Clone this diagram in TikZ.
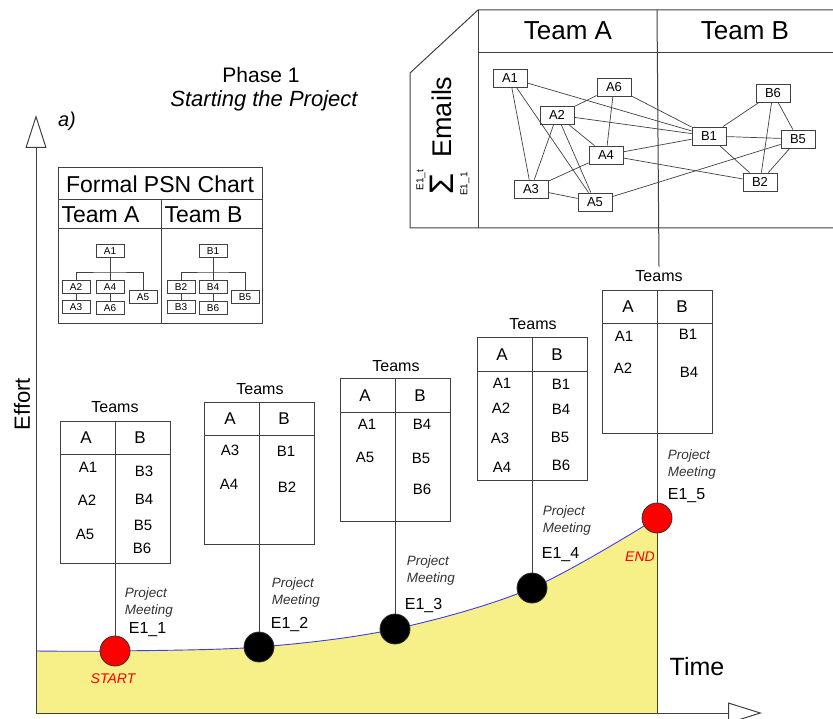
\documentclass[tikz,border=0pt]{standalone}
\usepackage{fontspec}
\setmainfont{Liberation Sans}
\usetikzlibrary{arrows.meta,calc,positioning}
\definecolor{Ink}{HTML}{404040}
\definecolor{Sand}{HTML}{F7EF88}
\definecolor{Trend}{HTML}{3C3CF0}
\definecolor{Signal}{HTML}{FF0000}
\newcommand{\fsz}[1]{\fontsize{#1}{#1}\selectfont}
\tikzset{
  mbox/.style={draw=Ink,line width=.8pt,minimum width=34pt,minimum height=18pt,inner sep=0pt,font=\fsz{13}},
  pbox/.style={draw=Ink,line width=.8pt,minimum width=28pt,minimum height=13pt,inner sep=0pt,font=\fsz{10}},
  evt/.style={circle,draw=black!80,line width=.8pt,minimum size=30pt,inner sep=0pt},
  teamtab/.style={draw=Ink,minimum width=110pt,minimum height=142pt,inner sep=0pt},
  teamlbl/.style={font=\fsz{16}},
  colhead/.style={font=\fsz{17}},
  entry/.style={font=\fsz{15}},
  meet/.style={anchor=north west,align=left,text=black!80,font=\itshape\fontsize{13.5}{17}\selectfont},
  evtlbl/.style={anchor=west,font=\fsz{16}},
}
\begin{document}
\begin{tikzpicture}[x=1pt,y=-1pt,line width=1pt]
\useasboundingbox (0,0) rectangle (833,719);
\coordinate (origin) at (36,713); \coordinate (ytip) at (36,115); \coordinate (xtip) at (762,713);
\coordinate (p0) at (36,651);
\coordinate (p1) at (115,651); \coordinate (p2) at (259,647); \coordinate (p3) at (395,629);
\coordinate (p4) at (532,588); \coordinate (p5) at (657,518);
% effort area
\fill[Sand] (origin) -- plot[smooth,tension=.55] coordinates {(p0) (p1) (p2) (p3) (p4) (p5)} -- (p5 |- origin) -- cycle;
\draw[Trend,line width=.9pt] plot[smooth,tension=.55] coordinates {(p0) (p1) (p2) (p3) (p4) (p5)};
\draw[Ink,-{Triangle[open,length=33pt,width=21pt]}] (origin) -- (ytip);
\draw[Ink,-{Triangle[open,length=34pt,width=21pt]}] (origin) -- (xtip);
\node[rotate=90,font=\fsz{22}] (effort) at (22,404) {Effort};
\node[font=\fsz{25}] (time) at (697,667) {Time};
\node[font=\itshape\fsz{20}] (tag) at (67,121) {a)};
\node[font=\fsz{21}] (phase) at (261,75) {Phase 1};
\node[font=\itshape\fsz{22}] (phasesub) at (264,101) {Starting the Project};

% email panel
\draw[Ink] (833,10) -- (478,10) -- (410,73) -- (410,228) -- (833,228);
\draw[Ink] (478,10) -- (478,228);
\draw[Ink] (478,53) -- (833,53);
\node[font=\fsz{26}] (mailA) at (568,31) {Team A};
\node[font=\fsz{26}] (mailB) at (745,31) {Team B};
\node[rotate=90,font=\fsz{27}] (mails) at (442,117) {Emails};
\node[rotate=90,font=\fsz{34}] (sigma) at (442,184) {Σ};
\node[rotate=90,font=\fsz{10}] (supE) at (421,180) {E1\_t};
\node[rotate=90,font=\fsz{10}] (subE) at (465,184) {E1\_1};
\node[mbox] (mA1) at (510,78) {A1};
\node[mbox] (mA6) at (614,87) {A6};
\node[mbox] (mA2) at (557,115) {A2};
\node[mbox] (mA4) at (606,155) {A4};
\node[mbox] (mA3) at (531,189) {A3};
\node[mbox] (mA5) at (595,202) {A5};
\node[mbox] (mB1) at (709,136) {B1};
\node[mbox] (mB6) at (773,93) {B6};
\node[mbox] (mB5) at (798,139) {B5};
\node[mbox] (mB2) at (760,182) {B2};
\foreach \a/\b in {mA1/mB1,mA1/mA3,mA1/mA5,mA6/mA2,mA6/mA4,mA6/mB1,mA2/mB1,mA2/mA4,mA2/mA3,
  mA2/mA5,mA4/mB1,mA4/mB2,mA4/mA3,mA3/mA5,mA5/mB5,mB1/mB6,mB1/mB5,mB1/mB2,mB6/mB5,mB6/mB2,mB5/mB2}
  \draw[Ink,line width=.7pt] (\a) -- (\b);

% formal chart
\draw[Ink] (58,168) rectangle (262,324);
\draw[Ink] (58,200) -- (262,200);
\draw[Ink] (58,229) -- (262,229);
\draw[Ink] (161,200) -- (161,324);
\node[font=\fsz{23}] (psnT) at (160,184) {Formal PSN Chart};
\node[font=\fsz{23},anchor=west,inner sep=0pt] (psnA) at (61,215) {Team A};
\node[font=\fsz{23},anchor=west,inner sep=0pt] (psnB) at (164,215) {Team B};
\node[pbox] (pA1) at (110,251) {A1};
\node[pbox] (pA2) at (76,287) {A2};
\node[pbox] (pA3) at (76,307) {A3};
\node[pbox] (pA4) at (110,287) {A4};
\node[pbox] (pA6) at (110,308) {A6};
\node[pbox] (pA5) at (143,297) {A5};
\node[pbox] (pB1) at (213,251) {B1};
\node[pbox] (pB2) at (181,287) {B2};
\node[pbox] (pB3) at (181,307) {B3};
\node[pbox] (pB4) at (213,287) {B4};
\node[pbox] (pB6) at (213,308) {B6};
\node[pbox] (pB5) at (245,297) {B5};
\coordinate (jA) at (110,272); \coordinate (jB) at (213,272);
\draw[Ink,line width=.8pt] (pA1) -- (pA4) (pA2.north) |- (jA) -| (pA5.north) (pA2) -- (pA3) (pA4) -- (pA6);
\draw[Ink,line width=.8pt] (pB1) -- (pB4) (pB2.north) |- (jB) -| (pB5.north) (pB2) -- (pB3) (pB4) -- (pB6);

% meeting E1_1
\node[teamtab] (tab1) at (115,492) {};
\draw[Ink] (tab1.north) -- (tab1.south);
\draw[Ink] ([yshift=-34pt]tab1.north west) -- ([yshift=-34pt]tab1.north east);
\node[teamlbl] (lbl1) at (115,407) {Teams};
\node[colhead] (h1a) at (86,438) {A}; \node[colhead] (h1b) at (140,438) {B};
\node[entry] (t1a1) at (88,467) {A1}; \node[entry] (t1a2) at (87,500) {A2}; \node[entry] (t1a5) at (85,534) {A5};
\node[entry] (t1b3) at (144,471) {B3}; \node[entry] (t1b4) at (144,499) {B4};
\node[entry] (t1b5) at (143,525) {B5}; \node[entry] (t1b6) at (142,548) {B6};
\node[meet] (pm1) at (121,584) {Project\\Meeting};
\node[evtlbl] (ev1) at (125,630) {E1\_1};
\node[evt,fill=Signal] (m1) at (p1) {};
\draw[Ink] (tab1) -- (m1);
\node[text=Signal,font=\itshape\fsz{14}] (start) at (113,679) {START};

% meeting E1_2
\node[teamtab] (tab2) at (259,473) {};
\draw[Ink] (tab2.north) -- (tab2.south);
\draw[Ink] ([yshift=-34pt]tab2.north west) -- ([yshift=-34pt]tab2.north east);
\node[teamlbl] (lbl2) at (260,389) {Teams};
\node[colhead] (h2a) at (230,419) {A}; \node[colhead] (h2b) at (284,419) {B};
\node[entry] (t2a3) at (230,450) {A3}; \node[entry] (t2a4) at (229,484) {A4};
\node[entry] (t2b1) at (286,451) {B1}; \node[entry] (t2b2) at (287,487) {B2};
\node[meet] (pm2) at (268,574) {Project\\Meeting};
\node[evtlbl] (ev2) at (267,625) {E1\_2};
\node[evt,fill=black] (m2) at (p2) {};
\draw[Ink] (tab2) -- (m2);

% meeting E1_3
\node[teamtab] (tab3) at (395,450) {};
\draw[Ink] (tab3.north) -- (tab3.south);
\draw[Ink] ([yshift=-34pt]tab3.north west) -- ([yshift=-34pt]tab3.north east);
\node[teamlbl] (lbl3) at (396,366) {Teams};
\node[colhead] (h3a) at (365,396) {A}; \node[colhead] (h3b) at (420,396) {B};
\node[entry] (t3a1) at (367,424) {A1}; \node[entry] (t3a5) at (365,457) {A5};
\node[entry] (t3b4) at (422,424) {B4}; \node[entry] (t3b5) at (421,458) {B5}; \node[entry] (t3b6) at (422,489) {B6};
\node[meet] (pm3) at (403,552) {Project\\Meeting};
\node[evtlbl] (ev3) at (401,606) {E1\_3};
\node[evt,fill=black] (m3) at (p3) {};
\draw[Ink] (tab3) -- (m3);

% meeting E1_4
\node[teamtab] (tab4) at (532,409) {};
\draw[Ink] (tab4.north) -- (tab4.south);
\draw[Ink] ([yshift=-34pt]tab4.north west) -- ([yshift=-34pt]tab4.north east);
\node[teamlbl] (lbl4) at (533,324) {Teams};
\node[colhead] (h4a) at (502,355) {A}; \node[colhead] (h4b) at (557,355) {B};
\node[entry] (t4a1) at (502,383) {A1}; \node[entry] (t4a2) at (501,408) {A2};
\node[entry] (t4a3) at (500,438) {A3}; \node[entry] (t4a4) at (502,467) {A4};
\node[entry] (t4b1) at (561,384) {B1}; \node[entry] (t4b4) at (561,409) {B4};
\node[entry] (t4b5) at (560,437) {B5}; \node[entry] (t4b6) at (561,465) {B6};
\node[meet] (pm4) at (539,502) {Project\\Meeting};
\node[evtlbl] (ev4) at (538,555) {E1\_4};
\node[evt,fill=black] (m4) at (p4) {};
\draw[Ink] (tab4) -- (m4);

% meeting E1_5
\node[teamtab] (tab5) at (657,362) {};
\draw[Ink] (tab5.north) -- (tab5.south);
\draw[Ink] ([yshift=-33pt]tab5.north west) -- ([yshift=-33pt]tab5.north east);
\node[teamlbl] (lbl5) at (659,276) {Teams};
\node[colhead] (h5a) at (628,307) {A}; \node[colhead] (h5b) at (682,307) {B};
\node[entry] (t5a1) at (624,336) {A1}; \node[entry] (t5a2) at (623,368) {A2};
\node[entry] (t5b1) at (688,334) {B1}; \node[entry] (t5b4) at (689,372) {B4};
\node[meet] (pm5) at (664,446) {Project\\Meeting};
\node[evtlbl] (ev5) at (664,496) {E1\_5};
\node[evt,fill=Signal] (m5) at (p5) {};
\draw[Ink] (tab5) -- (m5);
\draw[Ink] (m5) -- (m5 |- origin);
\draw[Ink] (657,10) -- (lbl5.north);
\node[text=Signal,font=\itshape\fsz{14}] (finish) at (640,557) {END};
\end{tikzpicture}
\end{document}
